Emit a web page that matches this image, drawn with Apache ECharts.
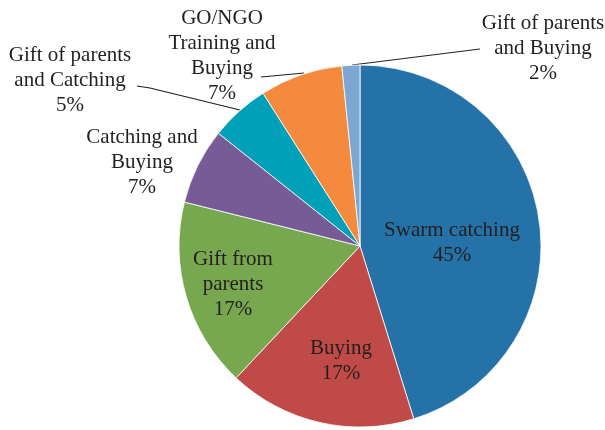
<!DOCTYPE html>
<html>
<head>
<meta charset="utf-8">
<script src="https://cdn.jsdelivr.net/npm/echarts@6/dist/echarts.min.js"></script>
<style>
  html, body { margin: 0; padding: 0; background: #ffffff; }
  #chart { width: 605px; height: 430px; }
</style>
</head>
<body>
<div id="chart"></div>
<script>
// categories (line breaks as printed on the chart)
var categories = [
  "Swarm catching",
  "Buying",
  "Gift from\nparents",
  "Catching and\nBuying",
  "Gift of parents\nand Catching",
  "GO/NGO\nTraining and\nBuying",
  "Gift of parents\nand Buying"
];
// share of respondents, %
var shares = [45.2, 16.8, 16.9, 6.8, 5.3, 7.4, 1.6];
var colors = ["#2572a9", "#c04a47", "#77a74f", "#775b96", "#00a0b8", "#f48a3e", "#7ea6d3"];

// label placement (center of text block) and leader lines
var labelPos = [
  [452, 243], [341, 361], [233, 284], [142, 162], [70, 80], [222, 56], [543, 48]
];
var leaderLines = {
  4: [[240, 110], [150, 88], [137, 86]],
  5: [[304, 73], [283, 75], [261, 77]],
  6: [[352, 65], [416, 57], [480, 49]]
};

var myChart = echarts.init(document.getElementById("chart"));

var pieData = categories.map(function(name, i) {
  return {
    name: name,
    value: shares[i],
    itemStyle: { color: colors[i] },
    label: { position: i < 3 ? "inside" : "outside" },
    labelLine: { show: !!leaderLines[i] }
  };
});

var option = {
  animation: false,
  backgroundColor: "#ffffff",
  series: [
    {
      type: "pie",
      center: [360, 246],
      radius: [0, 181],
      startAngle: 90,
      clockwise: true,
      silent: true,
      avoidLabelOverlap: false,
      itemStyle: { borderColor: "#ffffff", borderWidth: 0.8 },
      label: {
        show: true,
        color: "#231f20",
        fontFamily: "Liberation Serif",
        fontSize: 21,
        lineHeight: 25,
        align: "center",
        formatter: function(p) {
          return p.name + "\n" + Math.round(p.percent) + "%";
        }
      },
      labelLine: {
        lineStyle: { color: "#231f20", width: 1.2 }
      },
      labelLayout: function(params) {
        var i = params.dataIndex;
        var res = {
          x: labelPos[i][0],
          y: labelPos[i][1],
          align: "center",
          verticalAlign: "middle"
        };
        if (leaderLines[i]) res.labelLinePoints = leaderLines[i];
        return res;
      },
      data: pieData
    }
  ]
};
myChart.setOption(option);
</script>
</body>
</html>
